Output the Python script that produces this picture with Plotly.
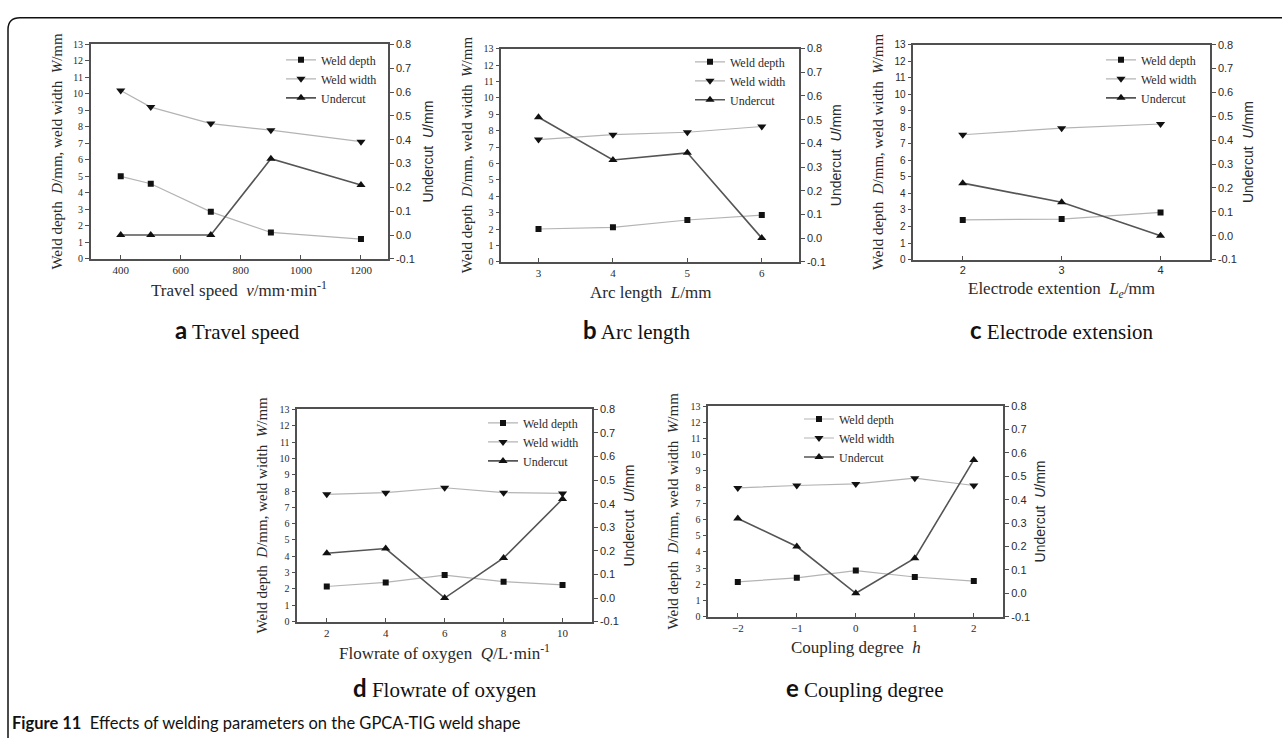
import plotly.graph_objects as go

W, H = 1282, 745

# ---------------- data ----------------
a_x = [400, 500, 700, 900, 1200]
a_depth = [5.0, 4.55, 2.85, 1.6, 1.2]
a_width = [10.2, 9.2, 8.2, 7.8, 7.1]
a_undercut = [0.0, 0.0, 0.0, 0.32, 0.21]

b_x = [3, 4, 5, 6]
b_depth = [2.0, 2.1, 2.55, 2.85]
b_width = [7.45, 7.75, 7.9, 8.25]
b_undercut = [0.51, 0.33, 0.36, 0.0]

c_x = [2, 3, 4]
c_depth = [2.4, 2.45, 2.85]
c_width = [7.55, 7.95, 8.2]
c_undercut = [0.22, 0.14, 0.0]

d_x = [2, 4, 6, 8, 10]
d_depth = [2.15, 2.4, 2.85, 2.45, 2.25]
d_width = [7.8, 7.9, 8.2, 7.9, 7.85]
d_undercut = [0.19, 0.21, 0.0, 0.17, 0.42]

e_x = [-2, -1, 0, 1, 2]
e_depth = [2.15, 2.4, 2.85, 2.45, 2.2]
e_width = [7.95, 8.1, 8.2, 8.55, 8.1]
e_undercut = [0.32, 0.20, 0.0, 0.15, 0.57]

series_names = ["Weld depth", "Weld width", "Undercut"]

x_titles = [
    "Travel speed  <i>v</i>/mm·min<sup>-1</sup>",
    "Arc length  <i>L</i>/mm",
    "Electrode extention  <i>L<sub>e</sub></i>/mm",
    "Flowrate of oxygen  <i>Q</i>/L·min<sup>-1</sup>",
    "Coupling degree  <i>h</i>",
]
left_title = "Weld depth  <i>D</i>/mm, weld width  <i>W</i>/mm"
right_title = "Undercut  <i>U</i>/mm"
caption_letters = ["a", "b", "c", "d", "e"]
caption_texts = ["Travel speed", "Arc length", "Electrode extension",
                 "Flowrate of oxygen", "Coupling degree"]
figure_caption_bold = "Figure 11"
figure_caption = "Effects of welding parameters on the GPCA-TIG weld shape"

right_tickvals = [-0.1, 0.0, 0.1, 0.2, 0.3, 0.4, 0.5, 0.6, 0.7, 0.8]
right_ticktext = ["-0.1", "0.0", "0.1", "0.2", "0.3", "0.4", "0.5", "0.6", "0.7", "0.8"]

# ---------------- layout helpers ----------------
def px(x):
    return x / W

def py(y):
    return 1 - y / H

SERIF = "Liberation Serif, Times New Roman, serif"
SANS = "Liberation Sans, Arial, sans-serif"
CAPF = "Lato, Open Sans, sans-serif"
TXT = "#2a2a2a"
AX = "#505050"

panels = [
    dict(x=a_x, d=a_depth, w=a_width, u=a_undercut, box=(90.7, 388, 39, 257),
         xr=[300, 1290], dt=200, tf=SERIF, leg=(382, 40), ylx=57, yrx=428, cap=(237, 329)),
    dict(x=b_x, d=b_depth, w=b_width, u=b_undercut, box=(501.3, 799, 43.3, 260),
         xr=[2.5, 6.5], dt=1, tf=SERIF, leg=(791, 42), ylx=467, yrx=836, cap=(636, 329)),
    dict(x=c_x, d=c_depth, w=c_width, u=c_undercut, box=(913.3, 1210, 39.3, 257.7),
         xr=[1.5, 4.5], dt=1, tf=SANS, leg=(1202, 40), ylx=878, yrx=1248, cap=(1062, 329)),
    dict(x=d_x, d=d_depth, w=d_width, u=d_undercut, box=(297.3, 592, 410, 625.7),
         xr=[1, 11], dt=2, tf=SERIF, leg=(584, 409), ylx=262, yrx=629, cap=(445, 693)),
    dict(x=e_x, d=e_depth, w=e_width, u=e_undercut, box=(708.3, 1003.3, 406.7, 620.7),
         xr=[-2.5, 2.5], dt=1, tf=SERIF, leg=(900, 405), ylx=673, yrx=1040, cap=(864, 693)),
]

fig = go.Figure()
layout = dict(
    width=W, height=H, margin=dict(l=0, r=0, t=0, b=0),
    paper_bgcolor="white", plot_bgcolor="white",
    showlegend=True,
    annotations=[], shapes=[],
)

def ann(text, x, y, font, angle=0, xanchor="center"):
    return dict(text=text, x=x, y=y, xref="paper", yref="paper", xanchor=xanchor,
                yanchor="middle", textangle=angle, showarrow=False, font=font)

for i, p in enumerate(panels, start=1):
    xid = "x" if i == 1 else f"x{i}"
    ylid_n = 2 * i - 1
    yrid_n = 2 * i
    ylid = "y" if ylid_n == 1 else f"y{ylid_n}"
    yrid = f"y{yrid_n}"
    legid = "legend" if i == 1 else f"legend{i}"
    l, r, t, b = p["box"]

    common = dict(mode="lines+markers", legend=legid, xaxis=xid)
    fig.add_trace(go.Scatter(x=p["x"], y=p["d"], name=series_names[0], yaxis=ylid,
                             line=dict(color="#b4b4b4", width=1.2),
                             marker=dict(symbol="square", size=6, color="#111"), **common))
    fig.add_trace(go.Scatter(x=p["x"], y=p["w"], name=series_names[1], yaxis=ylid,
                             line=dict(color="#b4b4b4", width=1.2),
                             marker=dict(symbol="triangle-down", size=8, color="#111"), **common))
    fig.add_trace(go.Scatter(x=p["x"], y=p["u"], name=series_names[2], yaxis=yrid,
                             line=dict(color="#555555", width=1.6),
                             marker=dict(symbol="triangle-up", size=8, color="#111"), **common))

    xkey = "xaxis" if i == 1 else f"xaxis{i}"
    layout[xkey] = dict(
        domain=[px(l), px(r)], anchor=ylid, range=p["xr"], dtick=p["dt"],
        showline=True, linecolor=AX, linewidth=1.5, mirror=True,
        ticks="inside", ticklen=4, tickcolor=AX, showgrid=False, zeroline=False,
        tickfont=dict(family=p["tf"], size=11, color=TXT),
    )
    layout["yaxis" if ylid_n == 1 else f"yaxis{ylid_n}"] = dict(
        domain=[py(b), py(t)], anchor=xid, range=[0, 13], dtick=1,
        showline=True, linecolor=AX, linewidth=1.5,
        ticks="outside", ticklen=4, tickcolor=AX, showgrid=False, zeroline=False,
        tickfont=dict(family=p["tf"], size=10, color=TXT),
    )
    layout[f"yaxis{yrid_n}"] = dict(
        overlaying=ylid, side="right", anchor=xid, range=[-0.1, 0.8],
        tickvals=right_tickvals, ticktext=right_ticktext,
        showline=True, linecolor=AX, linewidth=1.5,
        ticks="outside", ticklen=4, tickcolor=AX, showgrid=False, zeroline=False,
        tickfont=dict(family=SANS, size=11, color=TXT),
    )
    layout[legid] = dict(
        x=px(p["leg"][0]), y=py(p["leg"][1]), xanchor="right", yanchor="top",
        bgcolor="rgba(0,0,0,0)", borderwidth=0, itemwidth=30,
        font=dict(family=SERIF, size=12, color=TXT), tracegroupgap=0,
    )

    cy = py((t + b) / 2)
    layout["annotations"] += [
        ann(left_title, px(p["ylx"]), cy, dict(family=SERIF, size=15, color=TXT), angle=-90),
        ann(right_title, px(p["yrx"]), cy, dict(family=SANS, size=14, color=TXT), angle=-90),
        ann(x_titles[i - 1], px((l + r) / 2), py(b + 31), dict(family=SERIF, size=17, color=TXT)),
        ann(f"<b><span style='font-family:{CAPF};font-size:24px'>{caption_letters[i-1]}</span></b> {caption_texts[i-1]}",
            px(p["cap"][0]), py(p["cap"][1]), dict(family=SERIF, size=21, color="#111")),
    ]

layout["annotations"].append(
    ann(f"<b>{figure_caption_bold}</b>  {figure_caption}", px(10), py(729),
        dict(family=CAPF, size=16.5, color="#111"), xanchor="left"))

# frame
x0, x1 = px(8), px(20)
y0, y1 = py(12), py(24)
layout["shapes"].append(dict(
    type="path", xref="paper", yref="paper",
    path=f"M {px(8)},{py(744)} L {x0},{y1} Q {x0},{y0} {x1},{y0} L 1,{y0}",
    line=dict(color="#111", width=1.5)))

fig.update_layout(**layout)
fig.write_html("out.html", config={"displayModeBar": False})

# remove default page margins so the figure fills the window exactly
with open("out.html", "r", encoding="utf-8") as f:
    html = f.read()
html = html.replace("<head>", "<head><style>html,body{margin:0;padding:0;overflow:hidden}</style>", 1)
with open("out.html", "w", encoding="utf-8") as f:
    f.write(html)
